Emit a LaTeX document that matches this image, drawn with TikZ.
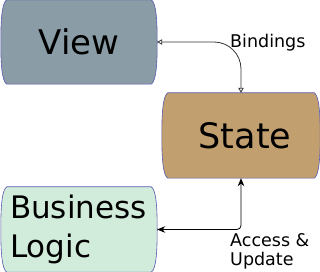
\documentclass[tikz,border=0pt]{standalone}
\usepackage{fontspec}
\setmainfont{DejaVu Sans}
\usepackage{xcolor}
\usepackage{tikz}
\usetikzlibrary{arrows.meta,backgrounds}
\definecolor{viewSlate}{HTML}{8A9CA6}
\definecolor{stateTan}{HTML}{C29F6E}
\definecolor{logicMint}{HTML}{D1ECDA}
\definecolor{blobLine}{HTML}{5A5AAE}
\definecolor{bindGrey}{HTML}{333333}
\tikzset{
  blobnode/.style={rectangle, inner sep=0pt, align=center},
  blobline/.style={draw=blobLine, fill=#1, line width=0.6pt},
  bindarrow/.style={{Triangle[open,length=5pt,width=5.5pt]}-{Triangle[open,length=5pt,width=5.5pt]}, line width=0.8pt, draw=bindGrey, rounded corners=27pt},
  accessarrow/.style={{Stealth[length=8pt,width=6.5pt]}-{Stealth[length=8pt,width=6.5pt]}, line width=0.8pt, draw=black, rounded corners=4pt},
  edgelabel/.style={font=\fontsize{17.5}{19.5}\selectfont, inner sep=0pt, align=left},
}
% outline with bulging sides round a named node
\newcommand{\blobpath}[2]{%
  \path[blobline=#2] ([xshift=6pt]#1.north west) -- ([xshift=-6pt]#1.north east)
    .. controls +(5,-3) and +(0,22) .. (#1.east)
    .. controls +(0,-22) and +(5,3) .. ([xshift=-6pt]#1.south east)
    -- ([xshift=6pt]#1.south west)
    .. controls +(-5,3) and +(0,-22) .. (#1.west)
    .. controls +(0,22) and +(-5,-3) .. cycle;}
\begin{document}
\begin{tikzpicture}[x=1pt,y=1pt]
  \useasboundingbox (0,0) rectangle (320,272);
  \node[blobnode, minimum width=156pt, minimum height=84pt, font=\fontsize{34}{40}\selectfont] (view) at (79,230) {View};
  \node[blobnode, minimum width=158pt, minimum height=85pt, font=\fontsize{35}{40}\selectfont] (state) at (241,136.5) {\hspace*{8pt}State};
  \node[blobnode, minimum width=156pt, minimum height=85pt, text width=138pt, font=\fontsize{31}{39}\selectfont, align=left] (logic) at (79,42.5) {Business\\Logic};

  \begin{scope}[on background layer]
    \blobpath{view}{viewSlate}
    \blobpath{state}{stateTan}
    \blobpath{logic}{logicMint}
  \end{scope}

  \draw[bindarrow] (view.east) -| (state.north);
  \draw[accessarrow] (logic.east) -| (state.south);

  \node[edgelabel, anchor=base west] (bindings) at (230,224) {Bindings};
  \node[edgelabel, anchor=north west] (access) at (230,39) {Access \&\\Update};
\end{tikzpicture}
\end{document}
